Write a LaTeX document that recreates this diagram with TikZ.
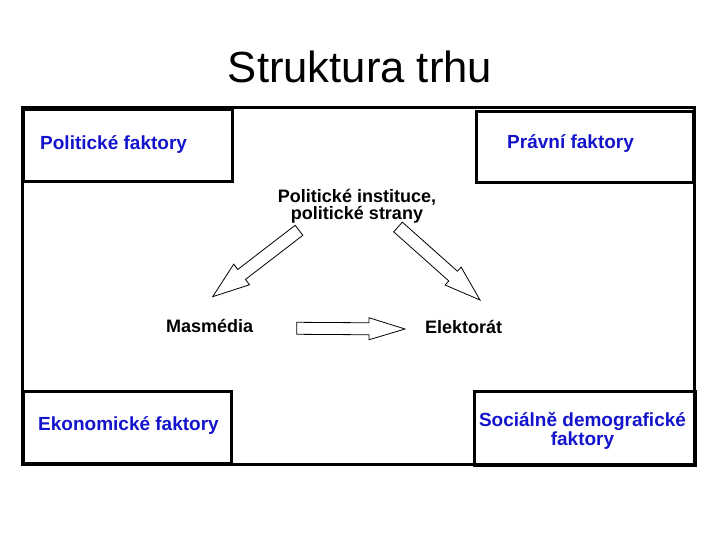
\documentclass[tikz,border=0pt]{standalone}
\usepackage{fontspec}
\setmainfont{Liberation Sans}
\usetikzlibrary{calc}
\definecolor{boxblue}{RGB}{20,20,205}
\tikzset{
  framebox/.style={draw=black, line width=3pt},
  factorbox/.style={framebox, anchor=north west, inner sep=0pt},
  factor/.style={font=\fontsize{19}{19}\selectfont\bfseries, text=boxblue, inner sep=0pt, align=center},
  actor/.style={font=\fontsize{18}{17}\selectfont\bfseries, text=black, inner sep=0pt, align=center},
  blockarrow/.style={draw=black, line width=0.8pt, fill=white, line join=miter},
}
% #1 start, #2 tip, #3 shaft half width, #4 head half width, #5 head length
\newcommand\hollowarrow[5]{%
  \coordinate (hbase) at ($(#2)!#5!(#1)$);
  \draw[blockarrow]
    ($(#1)!#3!90:(#2)$) -- ($(hbase)!#3!90:(#2)$) -- ($(hbase)!#4!90:(#2)$)
    -- (#2)
    -- ($(hbase)!#4!-90:(#2)$) -- ($(hbase)!#3!-90:(#2)$) -- ($(#1)!#3!-90:(#2)$) -- cycle;
}
\begin{document}
\begin{tikzpicture}[x=1pt,y=-1pt]
\useasboundingbox (0,0) rectangle (720,540);
\fill[white] (0,0) rectangle (720,540);

\node[anchor=base, font=\fontsize{43.6}{44}\selectfont, inner sep=0pt] (title) at (360,83) {Struktura trhu};

\draw[framebox] (22,108) rectangle (694,464);

\node[factorbox, minimum width=209pt, minimum height=72pt] (pfbox) at (22,108) {};
\node[factorbox, minimum width=217pt, minimum height=71pt] (prbox) at (475,110) {};
\node[factorbox, minimum width=208pt, minimum height=72pt] (ekbox) at (22,390) {};
\node[factorbox, minimum width=221pt, minimum height=74pt] (sdbox) at (473,390) {};

\node[factor, anchor=base west] (pf) at (40,150) {Politické faktory};
\node[factor, anchor=base west] (pr) at (507,149) {Právní faktory};
\node[factor, anchor=base west] (ek) at (38,430) {Ekonomické faktory};
\node[factor, anchor=center] (sd) at (582.5,431) {Sociálně demografické\\faktory};

\node[actor, anchor=center] (inst) at (357,206.4) {Politické instituce,\\politické strany};
\node[actor, anchor=base west] (mas) at (166,332) {Masmédia};
\node[actor, anchor=base west] (ele) at (425,333) {Elektorát};

\coordinate (a1s) at (299,230.3);
\coordinate (a1e) at (212.7,296.7);
\coordinate (a2s) at (398,227);
\coordinate (a2e) at (480,300);
\coordinate (a3s) at (296.7,328.3);
\coordinate (a3e) at (405,329);

\hollowarrow{a1s}{a1e}{6.3pt}{13pt}{36.5pt}
\hollowarrow{a2s}{a2e}{6.5pt}{12pt}{36pt}
\hollowarrow{a3s}{a3e}{6pt}{11pt}{36pt}
\end{tikzpicture}
\end{document}
